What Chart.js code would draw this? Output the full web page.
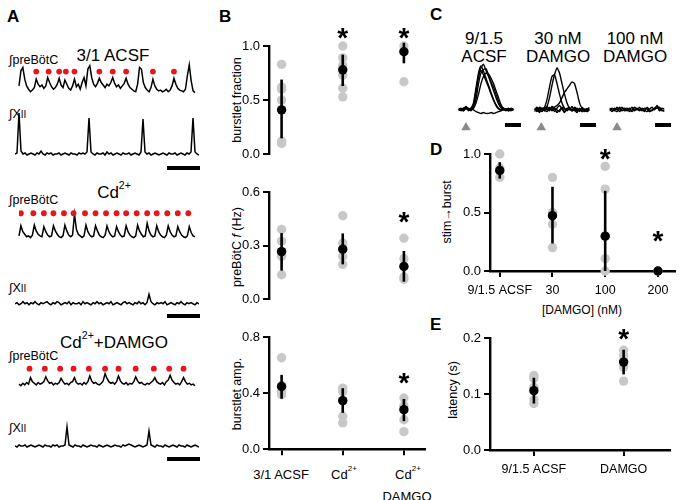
<!DOCTYPE html>
<html>
<head>
<meta charset="utf-8">
<script src="https://cdn.jsdelivr.net/npm/chart.js@4.4.0/dist/chart.umd.min.js"></script>
<style>
body { margin: 0; background: #fff; }
#fig { position: relative; width: 682px; height: 500px; overflow: hidden; font-family: "Liberation Sans", Arial, sans-serif; color: #000; }
#fig canvas { position: absolute; }
.t { position: absolute; white-space: nowrap; line-height: 1; }
.c { transform: translateX(-50%); text-align: center; }
.lt { font-weight: bold; font-size: 17px; }
.rot { transform: translate(-50%, -50%) rotate(-90deg); font-size: 12.5px; }
.lab { font-size: 12.5px; }
.ttl { font-size: 17px; }
.cat { font-size: 13px; }
.bar { position: absolute; height: 4px; background: #000; }
sup { font-size: 62%; vertical-align: top; position: relative; top: -0.35em; }
</style>
</head>
<body>
<div id="fig">
  <!-- panel letters -->
  <div class="t lt" style="left:7px;top:8px">A</div>
  <div class="t lt" style="left:219px;top:8px">B</div>
  <div class="t lt" style="left:430px;top:6px">C</div>
  <div class="t lt" style="left:430px;top:141px">D</div>
  <div class="t lt" style="left:430px;top:316px">E</div>

  <!-- panel A text -->
  <div class="t ttl c" style="left:113px;top:47px">3/1 ACSF</div>
  <div class="t lab" style="left:9px;top:54px">&int;preBötC</div>
  <div class="t lab" style="left:9px;top:108px">&int;X<span style="font-size:80%">II</span></div>
  <div class="t ttl c" style="left:114px;top:184px">Cd<sup>2+</sup></div>
  <div class="t lab" style="left:9px;top:194px">&int;preBötC</div>
  <div class="t lab" style="left:9px;top:282px">&int;X<span style="font-size:80%">II</span></div>
  <div class="t ttl c" style="left:114px;top:334px">Cd<sup>2+</sup>+DAMGO</div>
  <div class="t lab" style="left:9px;top:350px">&int;preBötC</div>
  <div class="t lab" style="left:9px;top:422px">&int;X<span style="font-size:80%">II</span></div>
  <div class="bar" style="left:167px;top:166px;width:33px"></div>
  <div class="bar" style="left:167px;top:314px;width:33px"></div>
  <div class="bar" style="left:167px;top:457px;width:33px"></div>

  <!-- panel B text -->
  <div class="t rot" style="left:237px;top:100px">burstlet fraction</div>
  <div class="t rot" style="left:237px;top:247px">preBötC <i>f</i> (Hz)</div>
  <div class="t rot" style="left:237px;top:394px">burstlet amp.</div>
  <div class="t cat c" style="left:281px;top:468px">3/1 ACSF</div>
  <div class="t cat c" style="left:344px;top:468px">Cd<sup>2+</sup></div>
  <div class="t cat c" style="left:408px;top:468px">Cd<sup>2+</sup></div>
  <div class="t cat c" style="left:407px;top:490px">DAMGO</div>

  <!-- panel C text -->
  <div class="t ttl c" style="left:484px;top:30px;line-height:18px">9/1.5<br>ACSF</div>
  <div class="t ttl c" style="left:558px;top:30px;line-height:18px">30 nM<br>DAMGO</div>
  <div class="t ttl c" style="left:635px;top:30px;line-height:18px">100 nM<br>DAMGO</div>
  <div class="bar" style="left:505px;top:123px;width:16px"></div>
  <div class="bar" style="left:580px;top:123px;width:16px"></div>
  <div class="bar" style="left:655px;top:123px;width:16px"></div>

  <!-- panel D / E text -->
  <div class="t rot" style="left:447px;top:212px">stim&rarr;burst</div>
  <div class="t c" style="left:582px;top:304px;font-size:12px">[DAMGO] (nM)</div>
  <div class="t rot" style="left:453px;top:390px">latency (s)</div>

  <canvas id="a1p" width="184" height="50" style="left:15px;top:55px"></canvas>
  <canvas id="a1x" width="184" height="55" style="left:15px;top:105px"></canvas>
  <canvas id="a2p" width="184" height="50" style="left:15px;top:200px"></canvas>
  <canvas id="a2x" width="184" height="25" style="left:15px;top:285px"></canvas>
  <canvas id="a3p" width="184" height="42" style="left:15px;top:355px"></canvas>
  <canvas id="a3x" width="184" height="32" style="left:15px;top:420px"></canvas>

  <canvas id="b1" width="200" height="145" style="left:230px;top:20px"></canvas>
  <canvas id="b2" width="200" height="140" style="left:230px;top:170px"></canvas>
  <canvas id="b3" width="200" height="145" style="left:230px;top:315px"></canvas>

  <canvas id="c1" width="66" height="90" style="left:453px;top:50px"></canvas>
  <canvas id="c2" width="66" height="90" style="left:529px;top:50px"></canvas>
  <canvas id="c3" width="66" height="90" style="left:604px;top:50px"></canvas>

  <canvas id="d" width="250" height="170" style="left:430px;top:135px"></canvas>
  <canvas id="e" width="245" height="170" style="left:430px;top:315px"></canvas>
</div>

<script>
Chart.defaults.font.family = '"Liberation Sans", Arial, sans-serif';
Chart.defaults.color = '#000';

// ---- panel A traces (height above baseline, one sample every 2 px) ----
const acsfPre = [10,28,32,18,10,6,3,5,8,18,12,9,11,7,10,20,14,9,6,8,12,19,11,8,17,12,7,5,10,18,9,12,6,14,20,10,30,34,20,12,9,13,19,14,11,8,12,10,14,20,13,9,11,7,10,13,19,12,8,6,4,3,12,32,30,14,8,5,3,8,18,10,6,4,5,3,4,6,3,5,10,19,12,7,5,4,3,6,22,35,16,4,2];
const acsfXii = [1,2,42,4,1,2,0,1,2,1,0,2,1,4,1,0,2,1,2,0,1,1,2,0,1,2,1,0,2,1,1,0,2,1,2,1,3,37,3,1,0,2,1,1,2,0,3,1,2,0,1,2,1,0,2,1,1,2,0,1,2,1,0,3,36,3,1,2,0,1,2,1,0,1,2,1,0,2,1,1,2,0,1,2,1,0,2,1,3,37,3,1,0];
const acsfDots = [9,15.5,21,24.5,29,42,49,56,70,81];

const cdPre = [4,16,9,6,3,4,2,5,17,10,6,4,3,15,9,5,3,4,16,10,6,3,2,4,17,10,5,3,5,30,12,6,4,2,4,17,9,5,3,4,16,10,5,3,2,5,16,9,5,3,4,15,9,5,3,4,16,9,5,3,2,4,17,10,6,3,4,19,10,5,3,4,16,9,5,3,2,5,16,9,5,3,4,15,9,5,3,2,4,15,8,4,3];
const cdXii = [1,2,0,1,3,1,2,0,2,1,3,1,0,2,1,2,3,1,0,2,1,3,2,0,1,2,1,3,0,2,1,1,2,0,3,1,2,1,0,2,1,3,1,2,0,1,2,1,3,0,1,2,1,0,2,3,1,2,1,0,2,1,3,1,2,0,2,10,3,1,0,2,1,2,1,3,0,1,2,1,0,2,1,3,1,0,2,1,2,1,0,2,1];
const cdDots = [1,7.5,13,18,23.5,28.5,34.5,40,45.5,51,56,61.5,67,72,77.5,83,88.5];

const damPre = [3,1,4,2,5,3,11,6,4,2,5,3,4,6,12,7,4,5,2,4,3,5,10,6,3,4,2,5,6,11,5,3,4,2,5,3,6,13,7,4,5,3,2,4,7,16,10,6,4,5,3,6,13,7,4,3,5,2,4,3,6,12,7,4,5,3,2,4,3,5,7,11,6,4,3,5,2,6,8,14,8,5,3,4,2,6,11,6,3,4,2,3,1];
const damXii = [1,0,2,1,1,2,0,1,2,1,0,1,2,1,0,2,1,1,0,2,1,2,0,1,1,2,20,2,1,0,2,1,1,0,2,1,0,1,2,1,1,0,2,1,0,1,2,1,0,1,2,1,1,0,2,1,2,3,2,1,0,1,2,1,0,1,2,16,2,1,0,2,1,1,0,2,1,0,1,2,1,0,2,1,1,0,2,1,0,1,2,1,0];
const damDots = [5.5,13.5,21.5,28.5,36.5,45,52,61,70.5,78.5,86];

// ---- panel C sweeps (one sample every 3 px) ----
const c930 = [
  [1,-1,2,3,0,2,8,25,42,50,44,36,28,20,12,6,2,0,1,-1,1,0,2],
  [0,2,-1,4,1,0,5,20,38,48,52,45,38,30,22,14,7,2,0,1,-1,2,0],
  [-1,1,0,2,2,1,3,12,30,42,46,47,40,32,26,18,10,4,1,0,2,-1,1],
  [2,0,1,3,-1,2,2,8,18,30,38,42,41,36,30,22,14,6,2,1,0,1,-1],
  [0,1,2,1,1,-1,6,22,38,45,40,33,26,18,11,5,1,0,2,0,1,0,1],
  [1,0,-1,2,0,1,0,-2,-3,-4,-3,-4,-4,-3,-4,-3,-2,-1,0,1,-1,0,1]
];
const c30 = [
  [0,2,-1,1,3,12,26,38,40,30,18,8,2,0,1,-1,2,0,1,-2,0,1,0],
  [1,-1,2,0,2,4,14,28,40,48,42,30,18,8,2,0,1,-1,0,2,-1,0,1],
  [-1,1,0,2,-1,1,2,0,3,5,8,14,20,24,28,32,30,20,8,2,0,1,-1],
  [2,-2,3,1,-1,4,0,3,-2,2,5,1,-3,2,0,4,-1,2,-2,3,0,-1,2],
  [-2,1,-3,2,0,-2,3,-1,1,-3,0,2,-2,1,3,-1,0,-3,2,-1,1,-2,0],
  [0,3,1,-2,2,1,-1,4,2,0,-2,3,1,-1,2,0,3,1,-1,2,-2,1,3]
];
const c100 = [
  [1,-2,2,0,3,-1,1,2,-2,0,3,1,-1,2,0,-2,1,3,0,5,1,-1,0],
  [-1,2,0,-2,1,3,-1,0,2,-2,1,0,3,-1,2,1,-2,0,2,4,-1,2,1],
  [2,0,-1,3,-2,1,2,-1,0,3,-1,2,0,1,-2,3,0,-1,1,2,3,0,-2]
];
const stimAt = [3, 2.7, 3];

// ---- panel B ----
const fracGray = [[0.83,0.62,0.6,0.5,0.12,0.1],[1.0,0.89,0.82,0.73,0.61,0.53],[1.0,0.96,0.67]];
const fracMean = [0.41,0.78,0.947];
const fracLo = [0.147,0.63,0.84];
const fracHi = [0.69,0.92,1.03];
const fracStars = [[1,1.11],[2,1.11]];

const freqGray = [[0.39,0.325,0.266,0.24,0.137],[0.467,0.314,0.24,0.195],[0.341,0.226,0.186,0.124,0.112]];
const freqMean = [0.266,0.28,0.183];
const freqLo = [0.16,0.195,0.098];
const freqHi = [0.37,0.368,0.27];
const freqStars = [[2,0.453]];

const ampGray = [[0.652,0.456,0.41,0.388],[0.435,0.41,0.346,0.235,0.188],[0.365,0.31,0.21,0.125]];
const ampMean = [0.447,0.346,0.282];
const ampLo = [0.36,0.259,0.2];
const ampHi = [0.53,0.435,0.358];
const ampStars = [[2,0.499]];

// ---- panel D ----
const dCats = ['9/1.5 ACSF', '30', '100', '200'];
const stimGray = [[1.0,0.88,0.85,0.8],[0.8,0.5,0.4,0.2],[0.894,0.7,0.106,0.0],[0.0]];
const stimMean = [0.86,0.473,0.298,0.0];
const stimLo = [0.79,0.235,0.0,0.0];
const stimHi = [0.93,0.72,0.685,0.0];
const stimStars = [[2,0.994],[3,0.287]];

// ---- panel E ----
const eCats = ['9/1.5 ACSF', 'DAMGO'];
const latGray = [[0.133,0.128,0.112,0.09,0.083],[0.178,0.169,0.16,0.148,0.123]];
const latMean = [0.106,0.157];
const latLo = [0.083,0.135];
const latHi = [0.129,0.179];
const latStars = [[1,0.205]];

const GRAY = '#c8c8c8';

const errbars = {
  id: 'errbars',
  afterDatasetDraw(chart, args, opts) {
    if (args.index !== 1) return;
    const ctx = chart.ctx, xs = chart.scales.x, ys = chart.scales.y;
    ctx.save();
    ctx.strokeStyle = '#000';
    ctx.lineWidth = 2.6;
    opts.lo.forEach((lo, i) => {
      const x = xs.getPixelForValue(i);
      ctx.beginPath();
      ctx.moveTo(x, ys.getPixelForValue(lo));
      ctx.lineTo(x, ys.getPixelForValue(opts.hi[i]));
      ctx.stroke();
    });
    ctx.restore();
  },
  afterDraw(chart, args, opts) {
    const ctx = chart.ctx, xs = chart.scales.x, ys = chart.scales.y;
    ctx.save();
    ctx.fillStyle = '#000';
    ctx.font = 'bold 28px "Liberation Sans", Arial, sans-serif';
    ctx.textAlign = 'center';
    ctx.textBaseline = 'alphabetic';
    (opts.stars || []).forEach(s => {
      ctx.fillText('*', xs.getPixelForValue(s[0]), ys.getPixelForValue(s[1]) + 13);
    });
    ctx.restore();
  }
};

function axisStyle() {
  return {
    grid: { display: true, drawOnChartArea: false, drawTicks: true, tickLength: 6, color: '#000', lineWidth: 2 },
    border: { display: true, color: '#000', width: 2.4 }
  };
}

function dotPlot(id, o) {
  const indiv = [];
  o.gray.forEach((g, c) => g.forEach(v => indiv.push({ x: c, y: v })));
  const means = o.mean.map((m, c) => ({ x: c, y: m }));
  new Chart(document.getElementById(id), {
    type: 'scatter',
    data: {
      datasets: [
        { data: means, pointRadius: 4.7, backgroundColor: '#000', borderWidth: 0, clip: false },
        { data: indiv, pointRadius: 4.7, backgroundColor: GRAY, borderWidth: 0, clip: false }
      ]
    },
    options: {
      responsive: false,
      animation: false,
      events: [],
      layout: { padding: o.pad },
      plugins: {
        legend: { display: false },
        tooltip: { enabled: false },
        errbars: { lo: o.lo, hi: o.hi, stars: o.stars }
      },
      scales: {
        x: Object.assign(axisStyle(), {
          type: 'linear',
          min: o.xmin,
          max: o.xmax,
          display: o.xaxis,
          afterBuildTicks: s => { s.ticks = o.gray.map((g, i) => ({ value: i })); },
          ticks: {
            display: !!o.xlabels,
            padding: 6,
            font: { size: 12.5 },
            maxRotation: 0,
            autoSkip: false,
            callback: v => (o.xlabels ? o.xlabels[v] : '')
          },
          afterFit: s => { s.height = o.xh; }
        }),
        y: Object.assign(axisStyle(), {
          min: o.ymin,
          max: o.ymax,
          afterBuildTicks: s => { s.ticks = o.yticks.map(v => ({ value: v })); },
          ticks: { padding: 3, font: { size: 13 }, callback: v => Number(v).toFixed(1) },
          afterFit: s => { s.width = o.yw; }
        })
      }
    },
    plugins: [errbars]
  });
}

function trace(id, vals, ymin, ymax, dots, dotY) {
  const sets = [{
    type: 'line',
    data: vals.map((v, i) => ({ x: i, y: v })),
    borderColor: '#000', borderWidth: 1.5, pointRadius: 0, tension: 0, clip: false
  }];
  if (dots) {
    sets.unshift({
      type: 'scatter',
      data: dots.map(x => ({ x: x, y: dotY })),
      pointRadius: 2.9, backgroundColor: '#e8151b', borderWidth: 0
    });
  }
  new Chart(document.getElementById(id), {
    type: 'line',
    data: { datasets: sets },
    options: {
      responsive: false, animation: false, events: [],
      layout: { padding: 0 },
      plugins: { legend: { display: false }, tooltip: { enabled: false } },
      scales: {
        x: { type: 'linear', display: false, min: 0, max: vals.length - 1 },
        y: { display: false, min: ymin, max: ymax }
      }
    }
  });
}

function sweeps(id, list, stim) {
  const n = list[0].length;
  const sets = list.map(s => ({
    type: 'line',
    data: s.map((v, i) => ({ x: i, y: v })),
    borderColor: '#000', borderWidth: 1.4, pointRadius: 0, tension: 0.2
  }));
  sets.push({
    type: 'scatter',
    data: [{ x: stim, y: -20 }],
    pointStyle: 'triangle', pointRadius: 5.5, backgroundColor: '#8a8a8a', borderWidth: 0
  });
  new Chart(document.getElementById(id), {
    type: 'line',
    data: { datasets: sets },
    options: {
      responsive: false, animation: false, events: [],
      layout: { padding: 0 },
      plugins: { legend: { display: false }, tooltip: { enabled: false } },
      scales: {
        x: { type: 'linear', display: false, min: 0, max: n - 1 },
        y: { display: false, min: -28, max: 62 }
      }
    }
  });
}

trace('a1p', acsfPre, -8, 42, acsfDots, 27);
trace('a1x', acsfXii, -5, 50);
trace('a2p', cdPre, -8, 42, cdDots, 31);
trace('a2x', cdXii, -5, 19);
trace('a3p', damPre, -8, 34, damDots, 22);
trace('a3x', damXii, -5, 27);

sweeps('c1', c930, stimAt[0]);
sweeps('c2', c30, stimAt[1]);
sweeps('c3', c100, stimAt[2]);

const bx = { xmin: -0.206, xmax: 2.35, yw: 39 };
dotPlot('b1', Object.assign({}, bx, { gray: fracGray, mean: fracMean, lo: fracLo, hi: fracHi, stars: fracStars,
  ymin: 0, ymax: 1, yticks: [0, 0.5, 1], pad: { top: 26, bottom: 6, left: 0, right: 0 }, xaxis: false, xh: 0 }));
dotPlot('b2', Object.assign({}, bx, { gray: freqGray, mean: freqMean, lo: freqLo, hi: freqHi, stars: freqStars,
  ymin: 0, ymax: 0.6, yticks: [0, 0.3, 0.6], pad: { top: 22, bottom: 5, left: 0, right: 0 }, xaxis: false, xh: 0 }));
dotPlot('b3', Object.assign({}, bx, { gray: ampGray, mean: ampMean, lo: ampLo, hi: ampHi, stars: ampStars,
  ymin: 0, ymax: 0.8, yticks: [0, 0.4, 0.8], pad: { top: 22, bottom: 4, left: 0, right: 0 }, xaxis: true, xh: 6 }));

dotPlot('d', { gray: stimGray, mean: stimMean, lo: stimLo, hi: stimHi, stars: stimStars,
  xmin: -0.185, xmax: 3.33, yw: 60, ymin: 0, ymax: 1, yticks: [0, 0.5, 1],
  pad: { top: 19, bottom: 4, left: 0, right: 0 }, xaxis: true, xh: 30, xlabels: dCats });
dotPlot('e', { gray: latGray, mean: latMean, lo: latLo, hi: latHi, stars: latStars,
  xmin: -0.489, xmax: 1.52, yw: 60, ymin: 0, ymax: 0.2, yticks: [0, 0.1, 0.2],
  pad: { top: 23, bottom: 4, left: 0, right: 0 }, xaxis: true, xh: 31, xlabels: eCats });
</script>
</body>
</html>
